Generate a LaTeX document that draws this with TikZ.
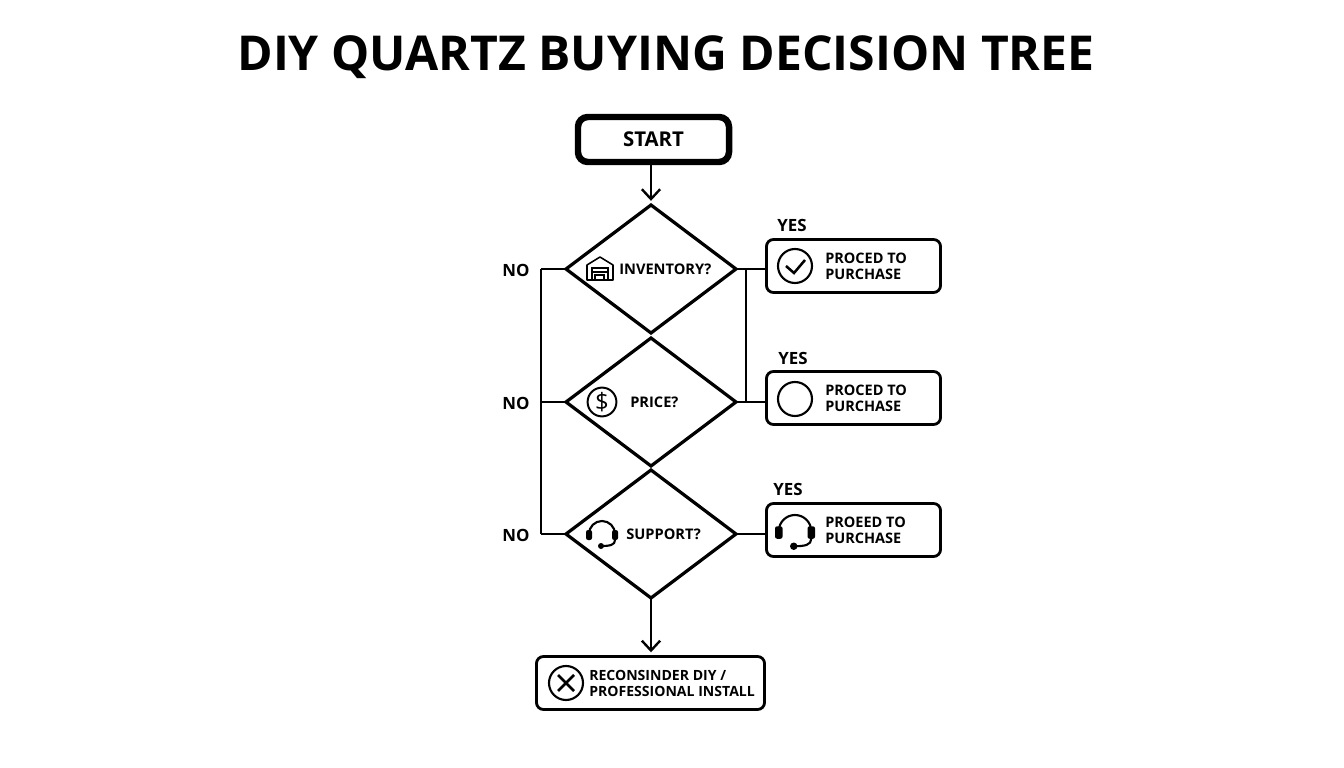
\documentclass[tikz,border=0pt]{standalone}
\usepackage{fontspec}
\setmainfont{Open Sans}
\usetikzlibrary{positioning,shapes.geometric,arrows.meta}

\tikzset{
    flowline/.style={line width=1.9pt},
    arrowline/.style={flowline, shorten >=3pt, -{Straight Barb[length=7pt,width=13pt,line width=1.7pt]}},
    decision/.style={diamond, draw, line width=2.3pt, minimum width=120.9pt, minimum height=91pt, inner sep=0pt, outer sep=0pt},
    result/.style={rectangle, draw, line width=2pt, rounded corners=5pt, minimum height=37.7pt, outer sep=0pt},
    boxtext/.style={align=left, anchor=west, inner sep=0pt, font=\bfseries\fontsize{10.3}{11.4}\selectfont},
    asklabel/.style={inner sep=0pt, font=\bfseries\fontsize{10.4}{12}\selectfont},
    branch/.style={inner sep=0pt, font=\bfseries\fontsize{12}{14}\selectfont},
    icon/.pic={\draw[line width=1.5pt] (0,0) circle (17);},
    tickicon/.pic={
        \draw[line width=1.5pt] (0,0) circle (17);
        \draw[line width=1.8pt] (-9,0) -- (-1,7) -- (10,-6);},
    crossicon/.pic={
        \draw[line width=1.5pt] (0,0) circle (17);
        \draw[line width=1.8pt] (-8,-8) -- (8,8) (-8,8) -- (8,-8);},
    dollaricon/.pic={
        \node[circle, draw, line width=1.4pt, minimum size=20.5pt, inner sep=0pt, font=\fontsize{17}{17}\selectfont] (-dollar) at (0,0) {\$};},
    storeicon/.pic={
        \draw[line width=1.1pt, line join=round] (-13,12) -- (-13,-3) -- (0,-11) -- (13,-3) -- (13,12) -- cycle;
        \draw[line width=1.1pt] (-8,12) -- (-8,0) -- (8,0) -- (8,12) (-8,4) -- (8,4);
        \draw[line width=1.1pt] (-5,12) -- (-5,7) -- (4,7) -- (4,12);},
    headseticon/.pic={
        \draw[line width=1.5pt] (-13,1) arc[start angle=180, end angle=360, radius=13];
        \fill[rounded corners=1.5pt] (-16,-3) rectangle (-10,7);
        \fill[rounded corners=1.5pt] (10,-3) rectangle (16,7);
        \draw[line width=1.5pt] (13,7) .. controls (13,12) and (8,13) .. (-1,13);
        \fill (-1,13) circle (3);},
}

\begin{document}
\begin{tikzpicture}[x=0.025cm, y=-0.025cm]
    \useasboundingbox (0,0) rectangle (1344,768);

    % Title
    \node[inner sep=0pt, font=\bfseries\fontsize{34.2}{40}\selectfont] (title) at (666,57) {DIY QUARTZ BUYING DECISION TREE};

    % Start
    \node[rectangle, draw, line width=4.6pt, rounded corners=7pt, minimum width=107.4pt, minimum height=32pt, outer sep=0pt, font=\bfseries\fontsize{14.5}{15}\selectfont] (start) at (653.5,139.5) {START};

    % Decisions
    \node[decision] (D1) at (651,269) {};
    \node[decision] (D2) at (651,402) {};
    \node[decision] (D3) at (651,534) {};

    \node[asklabel, anchor=west] (Q1) at (619,269) {INVENTORY?};
    \node[asklabel, anchor=west] (Q2) at (630,402) {PRICE?};
    \node[asklabel, anchor=west] (Q3) at (626,534) {SUPPORT?};

    % Results
    \node[result, minimum width=123.8pt] (R1) at (853.5,266) {};
    \node[result, minimum width=123.8pt] (R2) at (853.5,398) {};
    \node[result, minimum width=123.8pt] (R3) at (853.5,530) {};
    \node[result, minimum width=162.2pt] (R4) at (650.5,683) {};

    \node[boxtext] (T1) at (825,266) {PROCED TO\\PURCHASE};
    \node[boxtext] (T2) at (825,398) {PROCED TO\\PURCHASE};
    \node[boxtext] (T3) at (825,530) {PROEED TO\\PURCHASE};
    \node[boxtext, font=\bfseries\fontsize{10}{11.4}\selectfont] (T4) at (589,683) {RECONSINDER DIY /\\PROFESSIONAL INSTALL};

    % Icons
    \pic at (600,268) {storeicon};
    \pic (price) at (602,402) {dollaricon};
    \pic at (602,533) {headseticon};
    \pic at (795,266) {tickicon};
    \pic at (795,399) {icon};
    \pic[scale=1.25] at (795,530) {headseticon};
    \pic at (566,683) {crossicon};

    % Branch labels
    \foreach \i/\y in {1/270,2/403,3/535}
        \node[branch] (N\i) at (516,\y) {NO};
    \node[branch] (Y1) at (792,225) {YES};
    \node[branch] (Y2) at (793,358) {YES};
    \node[branch] (Y3) at (788,489) {YES};

    % Bends of the side lines
    \coordinate (L1) at (541,269);
    \coordinate (L3) at (541,534);
    \coordinate (J1) at (746,269);
    \coordinate (J2) at (746,402);

    % Main flow
    \draw[arrowline] (start.south -| D1.north) -- (D1.north);
    \draw[arrowline] (D3.south) -- (D3.south |- R4.north);

    % No side
    \foreach \i in {1,...,3}
        \draw[flowline] (D\i.west) -- (D\i.west -| L1);
    \draw[flowline] (L1) -- (L3);

    % Yes side
    \foreach \i in {1,...,3}
        \draw[flowline] (D\i.east) -- (D\i.east -| R\i.west);
    \draw[flowline] (J1) -- (J2);
\end{tikzpicture}
\end{document}
